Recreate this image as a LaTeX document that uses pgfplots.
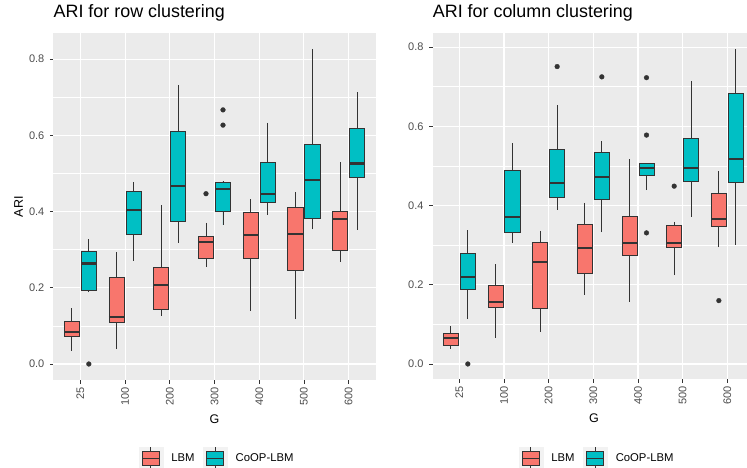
\documentclass[border=0pt]{standalone}
\usepackage{fontspec}
\setmainfont{Liberation Sans}
\usepackage{pgfplots}
\pgfplotsset{compat=1.18}
\usepgfplotslibrary{statistics}
\definecolor{lbmc}{HTML}{F8766D}
\definecolor{coopc}{HTML}{00BFC4}
\definecolor{g20}{HTML}{333333}
\definecolor{g30}{HTML}{4D4D4D}
\definecolor{panelbg}{HTML}{EBEBEB}
\definecolor{keybg}{HTML}{F2F2F2}
\pgfplotsset{
  panel/.style={
    scale only axis,
    axis background/.style={fill=panelbg},
    axis line style={draw=none},
    xtick={0,1,2,3,4,5,6},
    xticklabels={25,100,200,300,400,500,600},
    ytick={0,0.2,0.4,0.6,0.8},
    yticklabels={0.0,0.2,0.4,0.6,0.8},
    minor ytick={0.1,0.3,0.5,0.7},
    xmajorgrids, ymajorgrids, yminorgrids,
    major grid style={white, line width=1.1pt},
    minor grid style={white, line width=0.55pt},
    tick align=outside,
    xtick pos=left, ytick pos=left,
    major tick length=3.7pt, minor tick length=0pt,
    tick style={g20, line width=0.8pt},
    xticklabel shift=3.3pt, yticklabel shift=5.3pt,
    xticklabel style={rotate=90, anchor=east, inner sep=0pt, text=g30, font=\fontsize{11}{12}\selectfont},
    yticklabel style={inner sep=0pt, text=g30, font=\fontsize{11}{12}\selectfont},
    title style={at={(axis description cs:0,1)}, anchor=base west, yshift=10pt, inner sep=0pt, font=\fontsize{17.9}{20}\selectfont},
    label style={font=\fontsize{12.5}{14}\selectfont},
    legend columns=2,
    legend cell align=left,
    legend style={draw=none, fill=none, inner sep=0pt,
      nodes={inner sep=0pt, font=\fontsize{11.3}{13}\selectfont},
      /tikz/every odd column/.append style={column sep=8.4pt},
      /tikz/every even column/.append style={column sep=8.4pt}},
  },
  bx/.style={fill=#1, draw=g20, line width=0.8pt,
    mark=*, mark size=2.4pt, mark options={solid, fill=g20, draw=g20, line width=0.3pt},
    boxplot/draw direction=y,
    boxplot/box extend=0.34, boxplot/whisker extend=0,
    boxplot/every median/.style={line width=2.2pt}},
  keyimg/.style={legend image code/.code={
    \fill[keybg] (0pt,-11pt) rectangle (24pt,11pt);
    \draw[g20, line width=0.75pt] (12pt,-11pt) -- (12pt,11pt);
    \draw[g20, line width=0.75pt, fill=#1] (3.5pt,-6.8pt) rectangle (20.5pt,6.8pt);
    \draw[g20, line width=1.6pt] (3.5pt,0pt) -- (20.5pt,0pt);
  }},
}
\begin{document}
\begin{tikzpicture}
\path[use as bounding box] (0pt,0pt) rectangle (747pt,468pt);
% ---------------- left panel ----------------
\begin{axis}[panel,
  at={(53.5pt,88pt)}, anchor=south west,
  width=322pt, height=346.7pt,
  xmin=-0.6, xmax=6.6, ymin=-0.042, ymax=0.868,
  title={ARI for row clustering},
  xlabel={G}, ylabel={ARI},
  xlabel style={at={(axis description cs:0.5,-0.1125)}, anchor=center},
  ylabel style={at={(axis description cs:-0.1087,0.5)}, anchor=center},
  legend style={at={(axis description cs:0.2634,-0.2264)}, anchor=west},
]
\addlegendimage{keyimg=lbmc}\addlegendentry{LBM}
\addlegendimage{keyimg=coopc}\addlegendentry{CoOP-LBM}
% LBM
\addplot[bx=lbmc, boxplot prepared={draw position=-0.19, lower whisker=0.035, lower quartile=0.0735, median=0.085, upper quartile=0.111, upper whisker=0.146}] coordinates {};
\addplot[bx=lbmc, boxplot prepared={draw position=0.81, lower whisker=0.0385, lower quartile=0.108, median=0.124, upper quartile=0.228, upper whisker=0.293}] coordinates {};
\addplot[bx=lbmc, boxplot prepared={draw position=1.81, lower whisker=0.127, lower quartile=0.1435, median=0.2075, upper quartile=0.253, upper whisker=0.4165}] coordinates {};
\addplot[bx=lbmc, boxplot prepared={draw position=2.81, lower whisker=0.254, lower quartile=0.278, median=0.3195, upper quartile=0.336, upper whisker=0.371}] coordinates {(0,0.447)};
\addplot[bx=lbmc, boxplot prepared={draw position=3.81, lower whisker=0.139, lower quartile=0.278, median=0.3385, upper quartile=0.397, upper whisker=0.433}] coordinates {};
\addplot[bx=lbmc, boxplot prepared={draw position=4.81, lower whisker=0.117, lower quartile=0.246, median=0.342, upper quartile=0.411, upper whisker=0.4515}] coordinates {};
\addplot[bx=lbmc, boxplot prepared={draw position=5.81, lower whisker=0.2686, lower quartile=0.2985, median=0.38, upper quartile=0.40, upper whisker=0.5295}] coordinates {};
% CoOP-LBM
\addplot[bx=coopc, boxplot prepared={draw position=0.19, lower whisker=0.188, lower quartile=0.192, median=0.264, upper quartile=0.295, upper whisker=0.328}] coordinates {(0,0.0)};
\addplot[bx=coopc, boxplot prepared={draw position=1.19, lower whisker=0.271, lower quartile=0.341, median=0.404, upper quartile=0.452, upper whisker=0.478}] coordinates {};
\addplot[bx=coopc, boxplot prepared={draw position=2.19, lower whisker=0.3185, lower quartile=0.373, median=0.468, upper quartile=0.61, upper whisker=0.7325}] coordinates {};
\addplot[bx=coopc, boxplot prepared={draw position=3.19, lower whisker=0.365, lower quartile=0.401, median=0.459, upper quartile=0.477, upper whisker=0.48}] coordinates {(0,0.667) (0,0.627)};
\addplot[bx=coopc, boxplot prepared={draw position=4.19, lower whisker=0.392, lower quartile=0.4245, median=0.447, upper quartile=0.530, upper whisker=0.6335}] coordinates {};
\addplot[bx=coopc, boxplot prepared={draw position=5.19, lower whisker=0.3535, lower quartile=0.3815, median=0.482, upper quartile=0.577, upper whisker=0.827}] coordinates {};
\addplot[bx=coopc, boxplot prepared={draw position=6.19, lower whisker=0.3526, lower quartile=0.489, median=0.526, upper quartile=0.618, upper whisker=0.713}] coordinates {};
\end{axis}
% ---------------- right panel ----------------
\begin{axis}[panel,
  at={(432.7pt,88.7pt)}, anchor=south west,
  width=314.3pt, height=346pt,
  xmin=-0.596, xmax=6.44, ymin=-0.0387, ymax=0.835,
  title={ARI for column clustering},
  xlabel={G},
  xlabel style={at={(axis description cs:0.513,-0.1127)}, anchor=center},
  legend style={at={(axis description cs:0.2724,-0.2289)}, anchor=west},
]
\addlegendimage{keyimg=lbmc}\addlegendentry{LBM}
\addlegendimage{keyimg=coopc}\addlegendentry{CoOP-LBM}
% LBM
\addplot[bx=lbmc, boxplot prepared={draw position=-0.19, lower whisker=0.0387, lower quartile=0.048, median=0.0665, upper quartile=0.0775, upper whisker=0.095}] coordinates {};
\addplot[bx=lbmc, boxplot prepared={draw position=0.81, lower whisker=0.0657, lower quartile=0.142, median=0.1565, upper quartile=0.1995, upper whisker=0.2517}] coordinates {};
\addplot[bx=lbmc, boxplot prepared={draw position=1.81, lower whisker=0.0817, lower quartile=0.1405, median=0.2584, upper quartile=0.307, upper whisker=0.3367}] coordinates {};
\addplot[bx=lbmc, boxplot prepared={draw position=2.81, lower whisker=0.175, lower quartile=0.228, median=0.2938, upper quartile=0.3535, upper whisker=0.4075}] coordinates {};
\addplot[bx=lbmc, boxplot prepared={draw position=3.81, lower whisker=0.1566, lower quartile=0.2744, median=0.3064, upper quartile=0.3737, upper whisker=0.5177}] coordinates {};
\addplot[bx=lbmc, boxplot prepared={draw position=4.81, lower whisker=0.224, lower quartile=0.2946, median=0.3064, upper quartile=0.351, upper whisker=0.3595}] coordinates {(0,0.449)};
\addplot[bx=lbmc, boxplot prepared={draw position=5.81, lower whisker=0.2946, lower quartile=0.3477, median=0.366, upper quartile=0.431, upper whisker=0.4874}] coordinates {(0,0.16)};
% CoOP-LBM
\addplot[bx=coopc, boxplot prepared={draw position=0.19, lower whisker=0.113, lower quartile=0.1877, median=0.219, upper quartile=0.2795, upper whisker=0.3375}] coordinates {(0,0.0)};
\addplot[bx=coopc, boxplot prepared={draw position=1.19, lower whisker=0.3064, lower quartile=0.3325, median=0.3704, upper quartile=0.488, upper whisker=0.557}] coordinates {};
\addplot[bx=coopc, boxplot prepared={draw position=2.19, lower whisker=0.39, lower quartile=0.421, median=0.457, upper quartile=0.541, upper whisker=0.653}] coordinates {(0,0.751)};
\addplot[bx=coopc, boxplot prepared={draw position=3.19, lower whisker=0.3325, lower quartile=0.416, median=0.473, upper quartile=0.5337, upper whisker=0.563}] coordinates {(0,0.725)};
\addplot[bx=coopc, boxplot prepared={draw position=4.19, lower whisker=0.439, lower quartile=0.477, median=0.494, upper quartile=0.506, upper whisker=0.506}] coordinates {(0,0.723) (0,0.578) (0,0.331)};
\addplot[bx=coopc, boxplot prepared={draw position=5.19, lower whisker=0.372, lower quartile=0.4604, median=0.495, upper quartile=0.57, upper whisker=0.7146}] coordinates {};
\addplot[bx=coopc, boxplot prepared={draw position=6.19, lower whisker=0.3014, lower quartile=0.459, median=0.5177, upper quartile=0.682, upper whisker=0.7946}] coordinates {};
\end{axis}
\end{tikzpicture}
\end{document}
